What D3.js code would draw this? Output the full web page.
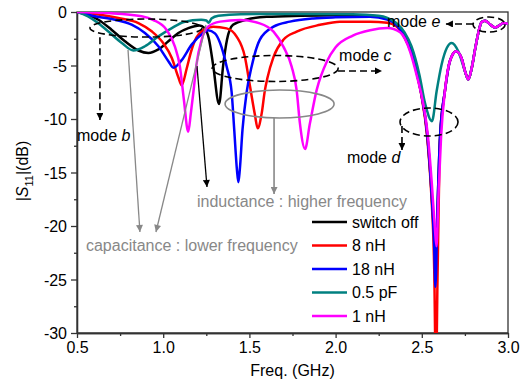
<!DOCTYPE html>
<html>
<head>
<meta charset="utf-8">
<script src="https://cdn.jsdelivr.net/npm/d3@7"></script>
<style>
  body { margin: 0; background: #fff; }
  svg { display: block; font-family: Arial, "Liberation Sans", sans-serif; }
</style>
</head>
<body>
<div id="chart"></div>
<script>
// data: [freq GHz, |S11| dB]
const switchOff = [[0.5,0],[0.56,-0.25],[0.624,-0.72],[0.70,-1.65],[0.778,-2.74],[0.856,-3.6],[0.914,-3.83],[0.972,-3.5],[1.03,-2.74],[1.088,-1.96],[1.146,-1.5],[1.21,-1.25],[1.24,-1.5],[1.265,-2.5],[1.29,-5.0],[1.324,-8.6],[1.347,-5.1],[1.37,-2.6],[1.405,-1.2],[1.486,-0.7],[1.6,-0.45],[1.8,-0.35],[2.0,-0.3],[2.2,-0.35],[2.3,-0.6],[2.35,-1.1],[2.40,-2.3],[2.44,-3.8],[2.47,-5.6],[2.50,-7.9],[2.53,-11.2],[2.555,-16.5],[2.572,-21],[2.581,-24],[2.59,-19],[2.606,-11.6],[2.634,-7.4],[2.663,-4.6],[2.70,-3.67],[2.73,-4.3],[2.75,-5.5],[2.77,-6.3],[2.79,-5.2],[2.81,-3.4],[2.83,-1.8],[2.847,-0.93],[2.867,-0.81],[2.895,-1.15],[2.925,-1.45],[2.95,-1.25],[2.973,-1.03],[3.0,-1.09]];
const nH8 = [[0.5,0],[0.604,-0.19],[0.74,-0.56],[0.856,-1.03],[0.933,-1.8],[1.0,-2.9],[1.05,-4.3],[1.088,-6.1],[1.107,-6.85],[1.136,-5.3],[1.16,-3.8],[1.18,-2.8],[1.21,-2.0],[1.25,-1.55],[1.29,-1.37],[1.368,-1.53],[1.426,-2.3],[1.474,-4.2],[1.503,-6.9],[1.532,-9.6],[1.548,-10.87],[1.571,-9.5],[1.59,-7.3],[1.604,-6.2],[1.64,-4.2],[1.697,-2.6],[1.774,-1.84],[1.91,-1.2],[2.025,-0.9],[2.2,-0.9],[2.3,-1.0],[2.35,-1.3],[2.40,-2.4],[2.44,-3.9],[2.47,-5.7],[2.50,-8.0],[2.53,-11.5],[2.555,-17],[2.572,-24],[2.582,-34],[2.592,-24],[2.606,-12],[2.634,-7.4],[2.663,-4.6],[2.70,-3.67],[2.73,-4.3],[2.75,-5.5],[2.77,-6.3],[2.79,-5.2],[2.81,-3.4],[2.83,-1.8],[2.847,-0.93],[2.867,-0.81],[2.895,-1.15],[2.925,-1.45],[2.95,-1.25],[2.973,-1.03],[3.0,-1.09]];
const nH18 = [[0.5,0],[0.604,-0.4],[0.72,-0.72],[0.817,-1.18],[0.894,-1.96],[0.972,-3.2],[1.03,-4.6],[1.059,-5.2],[1.107,-4.5],[1.165,-3.05],[1.233,-1.96],[1.26,-1.7],[1.30,-2.0],[1.33,-2.9],[1.368,-5.1],[1.397,-7.5],[1.412,-11],[1.428,-14.8],[1.436,-15.9],[1.444,-14.8],[1.46,-11],[1.484,-7.5],[1.513,-5.1],[1.56,-2.6],[1.64,-1.37],[1.735,-0.9],[1.87,-0.6],[2.0,-0.5],[2.2,-0.45],[2.3,-0.7],[2.35,-1.15],[2.40,-2.3],[2.44,-3.8],[2.47,-5.6],[2.50,-7.9],[2.53,-11.2],[2.555,-16.5],[2.572,-22],[2.579,-25.7],[2.59,-19],[2.606,-11.6],[2.634,-7.4],[2.663,-4.6],[2.70,-3.67],[2.73,-4.3],[2.75,-5.5],[2.77,-6.3],[2.79,-5.2],[2.81,-3.4],[2.83,-1.8],[2.847,-0.93],[2.867,-0.81],[2.895,-1.15],[2.925,-1.45],[2.95,-1.25],[2.973,-1.03],[3.0,-1.09]];
const pF05 = [[0.5,0],[0.564,-0.4],[0.62,-1.0],[0.68,-1.8],[0.76,-2.9],[0.827,-3.6],[0.894,-3.2],[0.97,-2.3],[1.05,-1.5],[1.12,-0.93],[1.22,-0.72],[1.25,-0.8],[1.265,-1.0],[1.28,-0.6],[1.32,-0.35],[1.45,-0.2],[1.8,-0.18],[2.1,-0.2],[2.25,-0.35],[2.3,-0.55],[2.35,-1.0],[2.40,-1.9],[2.44,-3.2],[2.486,-5.86],[2.52,-8.6],[2.559,-10.2],[2.586,-7.4],[2.615,-4.9],[2.645,-3.36],[2.673,-2.9],[2.712,-3.7],[2.74,-5.0],[2.77,-6.3],[2.79,-5.2],[2.81,-3.4],[2.83,-1.8],[2.847,-0.93],[2.867,-0.81],[2.895,-1.15],[2.925,-1.45],[2.95,-1.25],[2.973,-1.03],[3.0,-1.09]];
const nH1 = [[0.5,0],[0.68,-0.1],[0.875,-0.4],[0.943,-0.75],[1.02,-1.68],[1.068,-3.24],[1.097,-5.1],[1.12,-8.2],[1.145,-11.2],[1.16,-9.5],[1.175,-7.5],[1.194,-4.8],[1.223,-2.6],[1.26,-1.37],[1.33,-0.9],[1.445,-0.75],[1.56,-1.06],[1.64,-1.84],[1.697,-3.24],[1.745,-5.1],[1.774,-7.3],[1.793,-10.4],[1.823,-12.8],[1.85,-10.5],[1.89,-7.3],[1.95,-4.6],[2.0,-3.3],[2.1,-2.2],[2.2,-1.7],[2.3,-1.5],[2.374,-1.9],[2.432,-3.7],[2.47,-5.9],[2.51,-8.7],[2.535,-11.5],[2.558,-16],[2.575,-20],[2.585,-21.9],[2.597,-17],[2.612,-11.6],[2.634,-7.4],[2.663,-4.6],[2.70,-3.67],[2.73,-4.3],[2.75,-5.5],[2.77,-6.3],[2.79,-5.2],[2.81,-3.4],[2.83,-1.8],[2.847,-0.93],[2.867,-0.81],[2.895,-1.15],[2.925,-1.45],[2.95,-1.25],[2.973,-1.03],[3.0,-1.09]];

const seriesNames = ["switch off", "8 nH", "18 nH", "0.5 pF", "1 nH"];
const seriesData = [switchOff, nH8, nH18, pF05, nH1];
const colors = ["#000000", "#ff0000", "#0000ff", "#008080", "#ff00ff"];

const xTicks = [0.5, 1.0, 1.5, 2.0, 2.5, 3.0];
const xMinor = [0.75, 1.25, 1.75, 2.25, 2.75];
const yTicks = [0, -5, -10, -15, -20, -25, -30];
const yMinor = [-2.5, -7.5, -12.5, -17.5, -22.5, -27.5];

const W = 526, H = 380;
const margin = {top: 12, right: 18, bottom: 47, left: 77};
const iw = W - margin.left - margin.right;
const ih = H - margin.top - margin.bottom;

const svg = d3.select("#chart").append("svg")
  .attr("width", W).attr("height", H);

const defs = svg.append("defs");
defs.append("clipPath").attr("id", "clip")
  .append("rect").attr("width", iw).attr("height", ih);

// arrowheads
[["arrowBlack", "#000"], ["arrowGray", "#888"]].forEach(([id, c]) => {
  defs.append("marker")
    .attr("id", id)
    .attr("viewBox", "0 -5 10 10")
    .attr("refX", 10).attr("refY", 0)
    .attr("markerUnits", "userSpaceOnUse")
    .attr("markerWidth", 9).attr("markerHeight", 7)
    .attr("orient", "auto")
    .append("path").attr("d", "M0,-5L10,0L0,5Z").attr("fill", c);
});

const g = svg.append("g").attr("transform", `translate(${margin.left},${margin.top})`);

const x = d3.scaleLinear().domain([0.5, 3.0]).range([0, iw]);
const y = d3.scaleLinear().domain([-30, 0]).range([ih, 0]);

// axes
const axisColor = "#333";
function styleAxis(sel) {
  sel.selectAll("path, line").attr("stroke", axisColor).attr("stroke-width", 1.3);
  sel.selectAll("text").attr("fill", "#000").style("font-size", "16px");
}
g.append("g").attr("transform", `translate(0,${ih})`)
  .call(d3.axisBottom(x).tickValues(xMinor).tickSize(3).tickFormat("").tickSizeOuter(0))
  .call(styleAxis);
g.append("g").attr("transform", `translate(0,${ih})`)
  .call(d3.axisBottom(x).tickValues(xTicks).tickSize(5).tickPadding(4).tickFormat(d3.format(".1f")).tickSizeOuter(0))
  .call(styleAxis);
g.append("g")
  .call(d3.axisLeft(y).tickValues(yMinor).tickSize(3).tickFormat("").tickSizeOuter(0))
  .call(styleAxis);
g.append("g")
  .call(d3.axisLeft(y).tickValues(yTicks).tickSize(6).tickPadding(4).tickFormat(d => String(d)).tickSizeOuter(0))
  .call(styleAxis)
  .selectAll("text").attr("dy", "0.36em");

// top / right frame
g.append("rect").attr("width", iw).attr("height", ih)
  .attr("fill", "none").attr("stroke", axisColor).attr("stroke-width", 1.3);

// axis titles
svg.append("text")
  .attr("x", margin.left + iw / 2).attr("y", 376)
  .attr("text-anchor", "middle").style("font-size", "16px")
  .text("Freq. (GHz)");

const yl = svg.append("text")
  .attr("transform", "translate(28,171) rotate(-90)")
  .attr("text-anchor", "middle").style("font-size", "16px");
yl.append("tspan").text("|");
yl.append("tspan").attr("font-style", "italic").text("S");
yl.append("tspan").attr("dy", 5).style("font-size", "11px").text("11");
yl.append("tspan").attr("dy", -5).text("|(dB)");

// curves
const line = d3.line()
  .x(d => x(d[0])).y(d => y(d[1]))
  .curve(d3.curveMonotoneX);

g.append("g").attr("clip-path", "url(#clip)")
  .selectAll("path").data(seriesData).join("path")
  .attr("d", line)
  .attr("fill", "none")
  .attr("stroke", (d, i) => colors[i])
  .attr("stroke-width", 2.5)
  .attr("stroke-linejoin", "round");

// annotations (positions in data units)
const dash = "7,4";
function ellipse(f, db, rx, ry, stroke, dashed) {
  g.append("ellipse")
    .attr("cx", x(f)).attr("cy", y(db)).attr("rx", rx).attr("ry", ry)
    .attr("fill", "none").attr("stroke", stroke).attr("stroke-width", 1.6)
    .attr("stroke-dasharray", dashed ? dash : null);
}
function arrow(f1, d1, f2, d2, stroke, marker, dashed, w) {
  g.append("line")
    .attr("x1", x(f1)).attr("y1", y(d1)).attr("x2", x(f2)).attr("y2", y(d2))
    .attr("stroke", stroke).attr("stroke-width", w || 1.6)
    .attr("stroke-dasharray", dashed ? dash : null)
    .attr("marker-end", `url(#${marker})`);
}
function label(f, db, parts, fill) {
  const t = g.append("text").attr("x", x(f)).attr("y", y(db))
    .style("font-size", "16px").attr("fill", fill || "#000");
  parts.forEach(p => {
    t.append("tspan").attr("font-style", p[1] ? "italic" : null).text(p[0]);
  });
}

// mode b
ellipse(0.90, -1.5, 56, 9, "#000", true);
arrow(0.633, -2.35, 0.633, -10.1, "#000", "arrowBlack", true);
label(0.5, -12.05, [["mode "], ["b", true]]);
// mode c
ellipse(1.649, -5.28, 63, 13, "#000", true);
arrow(2.014, -5.51, 2.269, -5.51, "#000", "arrowBlack", true);
label(2.02, -4.58, [["mode "], ["c", true]]);
// mode d
ellipse(2.542, -10.28, 29, 14, "#000", true);
arrow(2.385, -10.65, 2.385, -12.9, "#000", "arrowBlack", true);
label(2.066, -14.11, [["mode "], ["d", true]]);
// mode e
ellipse(2.89, -1.17, 16, 7.5, "#000", true);
arrow(2.797, -1.12, 2.64, -1.12, "#000", "arrowBlack", true);
label(2.298, -1.40, [["mode "], ["e", true]]);

// inductance / capacitance notes
ellipse(1.675, -8.6, 54.5, 14, "#888", false);
arrow(1.643, -9.91, 1.643, -17.0, "#888", "arrowGray", false);
label(1.196, -18.2, [["inductance : higher frequency"]], "#888");
arrow(1.196, -5.05, 1.254, -16.36, "#000", "arrowBlack", false, 1.3);
arrow(0.796, -3.55, 0.865, -20.56, "#888", "arrowGray", false, 1.3);
arrow(1.248, -1.21, 0.958, -20.56, "#888", "arrowGray", false, 1.3);
label(0.552, -22.3, [["capacitance : lower frequency"]], "#888");

// legend
const legend = svg.append("g").attr("transform", "translate(312,222)");
const rows = legend.selectAll("g").data(seriesNames).join("g")
  .attr("transform", (d, i) => `translate(0,${i * 23.5})`);
rows.append("line").attr("x1", 0).attr("x2", 35)
  .attr("stroke", (d, i) => colors[i]).attr("stroke-width", 2.5);
rows.append("text").attr("x", 40).attr("dy", "0.36em")
  .style("font-size", "16px").text(d => d);
</script>
</body>
</html>
